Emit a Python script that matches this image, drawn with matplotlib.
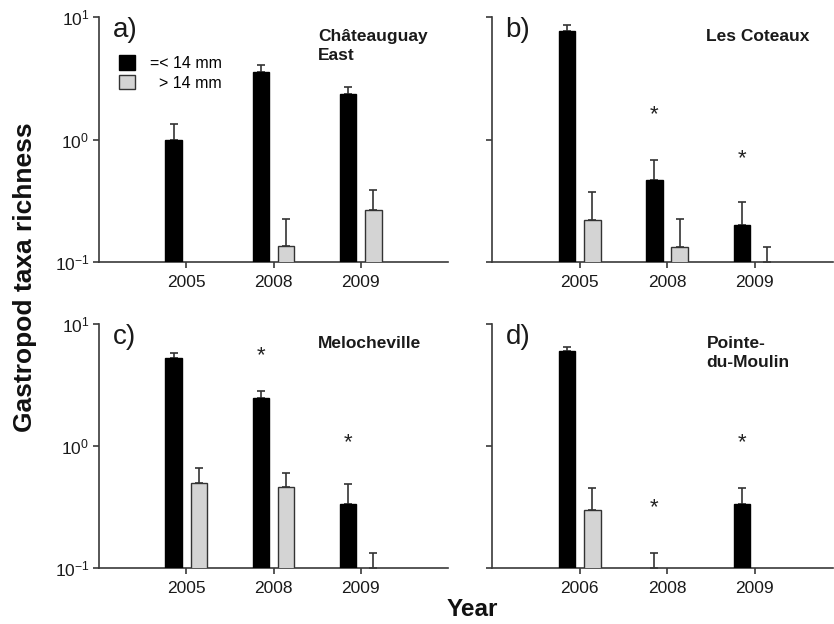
import numpy as np
import matplotlib
matplotlib.use('Agg')
import matplotlib.pyplot as plt
from matplotlib.patches import Patch

plt.rcParams['font.family'] = 'Liberation Sans'
plt.rcParams['axes.unicode_minus'] = False

# data (means and upper standard errors)
years_a = ['2005', '2008', '2009']
small_a = [1.0, 3.54, 2.34]
small_a_err = [0.33, 0.56, 0.35]
large_a = [0, 0.135, 0.268]
large_a_err = [0, 0.09, 0.118]

years_b = ['2005', '2008', '2009']
small_b = [7.66, 0.469, 0.201]
small_b_err = [1.03, 0.214, 0.109]
large_b = [0.222, 0.134, 0]
large_b_err = [0.149, 0.091, 0.134]

years_c = ['2005', '2008', '2009']
small_c = [5.24, 2.47, 0.333]
small_c_err = [0.51, 0.37, 0.158]
large_c = [0.50, 0.464, 0]
large_c_err = [0.164, 0.133, 0.132]

years_d = ['2006', '2008', '2009']
small_d = [6.0, 0, 0.333]
small_d_err = [0.5, 0.132, 0.122]
large_d = [0.299, 0, 0]
large_d_err = [0.151, 0, 0]

# asterisks: (year index, height)
stars_a = []
stars_b = [(1, 1.6), (2, 0.7)]
stars_c = [(1, 5.5), (2, 1.06)]
stars_d = [(1, 0.31), (2, 1.06)]

panels = [
    ('a)', 'Châteauguay\nEast', years_a, small_a, small_a_err, large_a, large_a_err, stars_a),
    ('b)', 'Les Coteaux', years_b, small_b, small_b_err, large_b, large_b_err, stars_b),
    ('c)', 'Melocheville', years_c, small_c, small_c_err, large_c, large_c_err, stars_c),
    ('d)', 'Pointe-\ndu-Moulin', years_d, small_d, small_d_err, large_d, large_d_err, stars_d),
]

positions = [
    [0.1187, 0.580, 0.4185, 0.3926],
    [0.5899, 0.580, 0.4095, 0.3926],
    [0.1187, 0.0897, 0.4185, 0.391],
    [0.5899, 0.0897, 0.4095, 0.391],
]
xlims = [(-1.0, 3.0), (-1.0, 2.9), (-1.0, 3.0), (-1.0, 2.9)]

fig = plt.figure(figsize=(8.34, 6.24), dpi=100)

spine_col = '#3a3a3a'
w = 0.19
off = 0.145

for i, (lab, site, yrs, sm, sme, lg, lge, stars) in enumerate(panels):
    ax = fig.add_axes(positions[i])
    ax.set_yscale('log')
    x = np.arange(len(yrs))
    sm = np.array(sm, float)
    lg = np.array(lg, float)
    sme = np.array(sme, float)
    lge = np.array(lge, float)

    ax.bar(x - off, np.where(sm > 0, sm, np.nan), width=w, color='black',
           edgecolor='black', linewidth=1, zorder=3)
    ax.bar(x + off, np.where(lg > 0, lg, np.nan), width=w, color='#d4d4d4',
           edgecolor='#333333', linewidth=1, zorder=3)

    for xs, m, e in [(x - off, sm, sme), (x + off, lg, lge)]:
        keep = e > 0
        base = np.where(m[keep] > 0, m[keep], 0.1)
        ax.errorbar(xs[keep], base, yerr=[np.zeros(keep.sum()), m[keep] + e[keep] - base],
                    fmt='none', ecolor='#333333', elinewidth=1.2, capsize=3.2,
                    capthick=1.2, zorder=2)

    for k, h in stars:
        ax.text(k - off, h, '*', ha='center', va='center', fontsize=16, color='#222222')

    ax.set_ylim(0.1, 10)
    ax.set_xlim(*xlims[i])
    ax.set_xticks(x)
    ax.set_xticklabels(yrs)
    ax.set_yticks([0.1, 1, 10])
    ax.yaxis.set_minor_locator(matplotlib.ticker.NullLocator())
    if i in (1, 3):
        ax.set_yticklabels([])
    for s in ['top', 'right']:
        ax.spines[s].set_visible(False)
    for s in ['left', 'bottom']:
        ax.spines[s].set_color(spine_col)
        ax.spines[s].set_linewidth(1.2)
    ax.tick_params(axis='both', direction='out', length=4, width=1.2,
                   color=spine_col, labelsize=12.5, labelcolor='#1a1a1a')
    ax.tick_params(axis='x', pad=5)
    ax.tick_params(axis='y', pad=3)

    ax.text(0.04, 1.0, lab, transform=ax.transAxes, ha='left', va='top',
            fontsize=20, color='#1a1a1a')
    ax.text(0.628, 0.95, site, transform=ax.transAxes, ha='left', va='top',
            fontsize=12.5, fontweight='bold', color='#1a1a1a', linespacing=1.3)

    if i == 0:
        handles = [Patch(facecolor='black', edgecolor='black'),
                   Patch(facecolor='#d4d4d4', edgecolor='#333333')]
        ax.legend(handles, ['=< 14 mm', '  > 14 mm'], loc='upper left',
                  bbox_to_anchor=(0.04, 0.87), frameon=False, fontsize=11.5,
                  handlelength=1.0, handleheight=1.0, handletextpad=0.9,
                  labelspacing=0.25, borderaxespad=0)

fig.text(0.03, 0.556, 'Gastropod taxa richness', rotation=90, ha='center',
         va='center', fontsize=19, fontweight='bold', color='#111111')
fig.text(0.566, 0.024, 'Year', ha='center', va='center', fontsize=17.5,
         fontweight='bold', color='#111111')

fig.savefig('out.png', dpi=100)
